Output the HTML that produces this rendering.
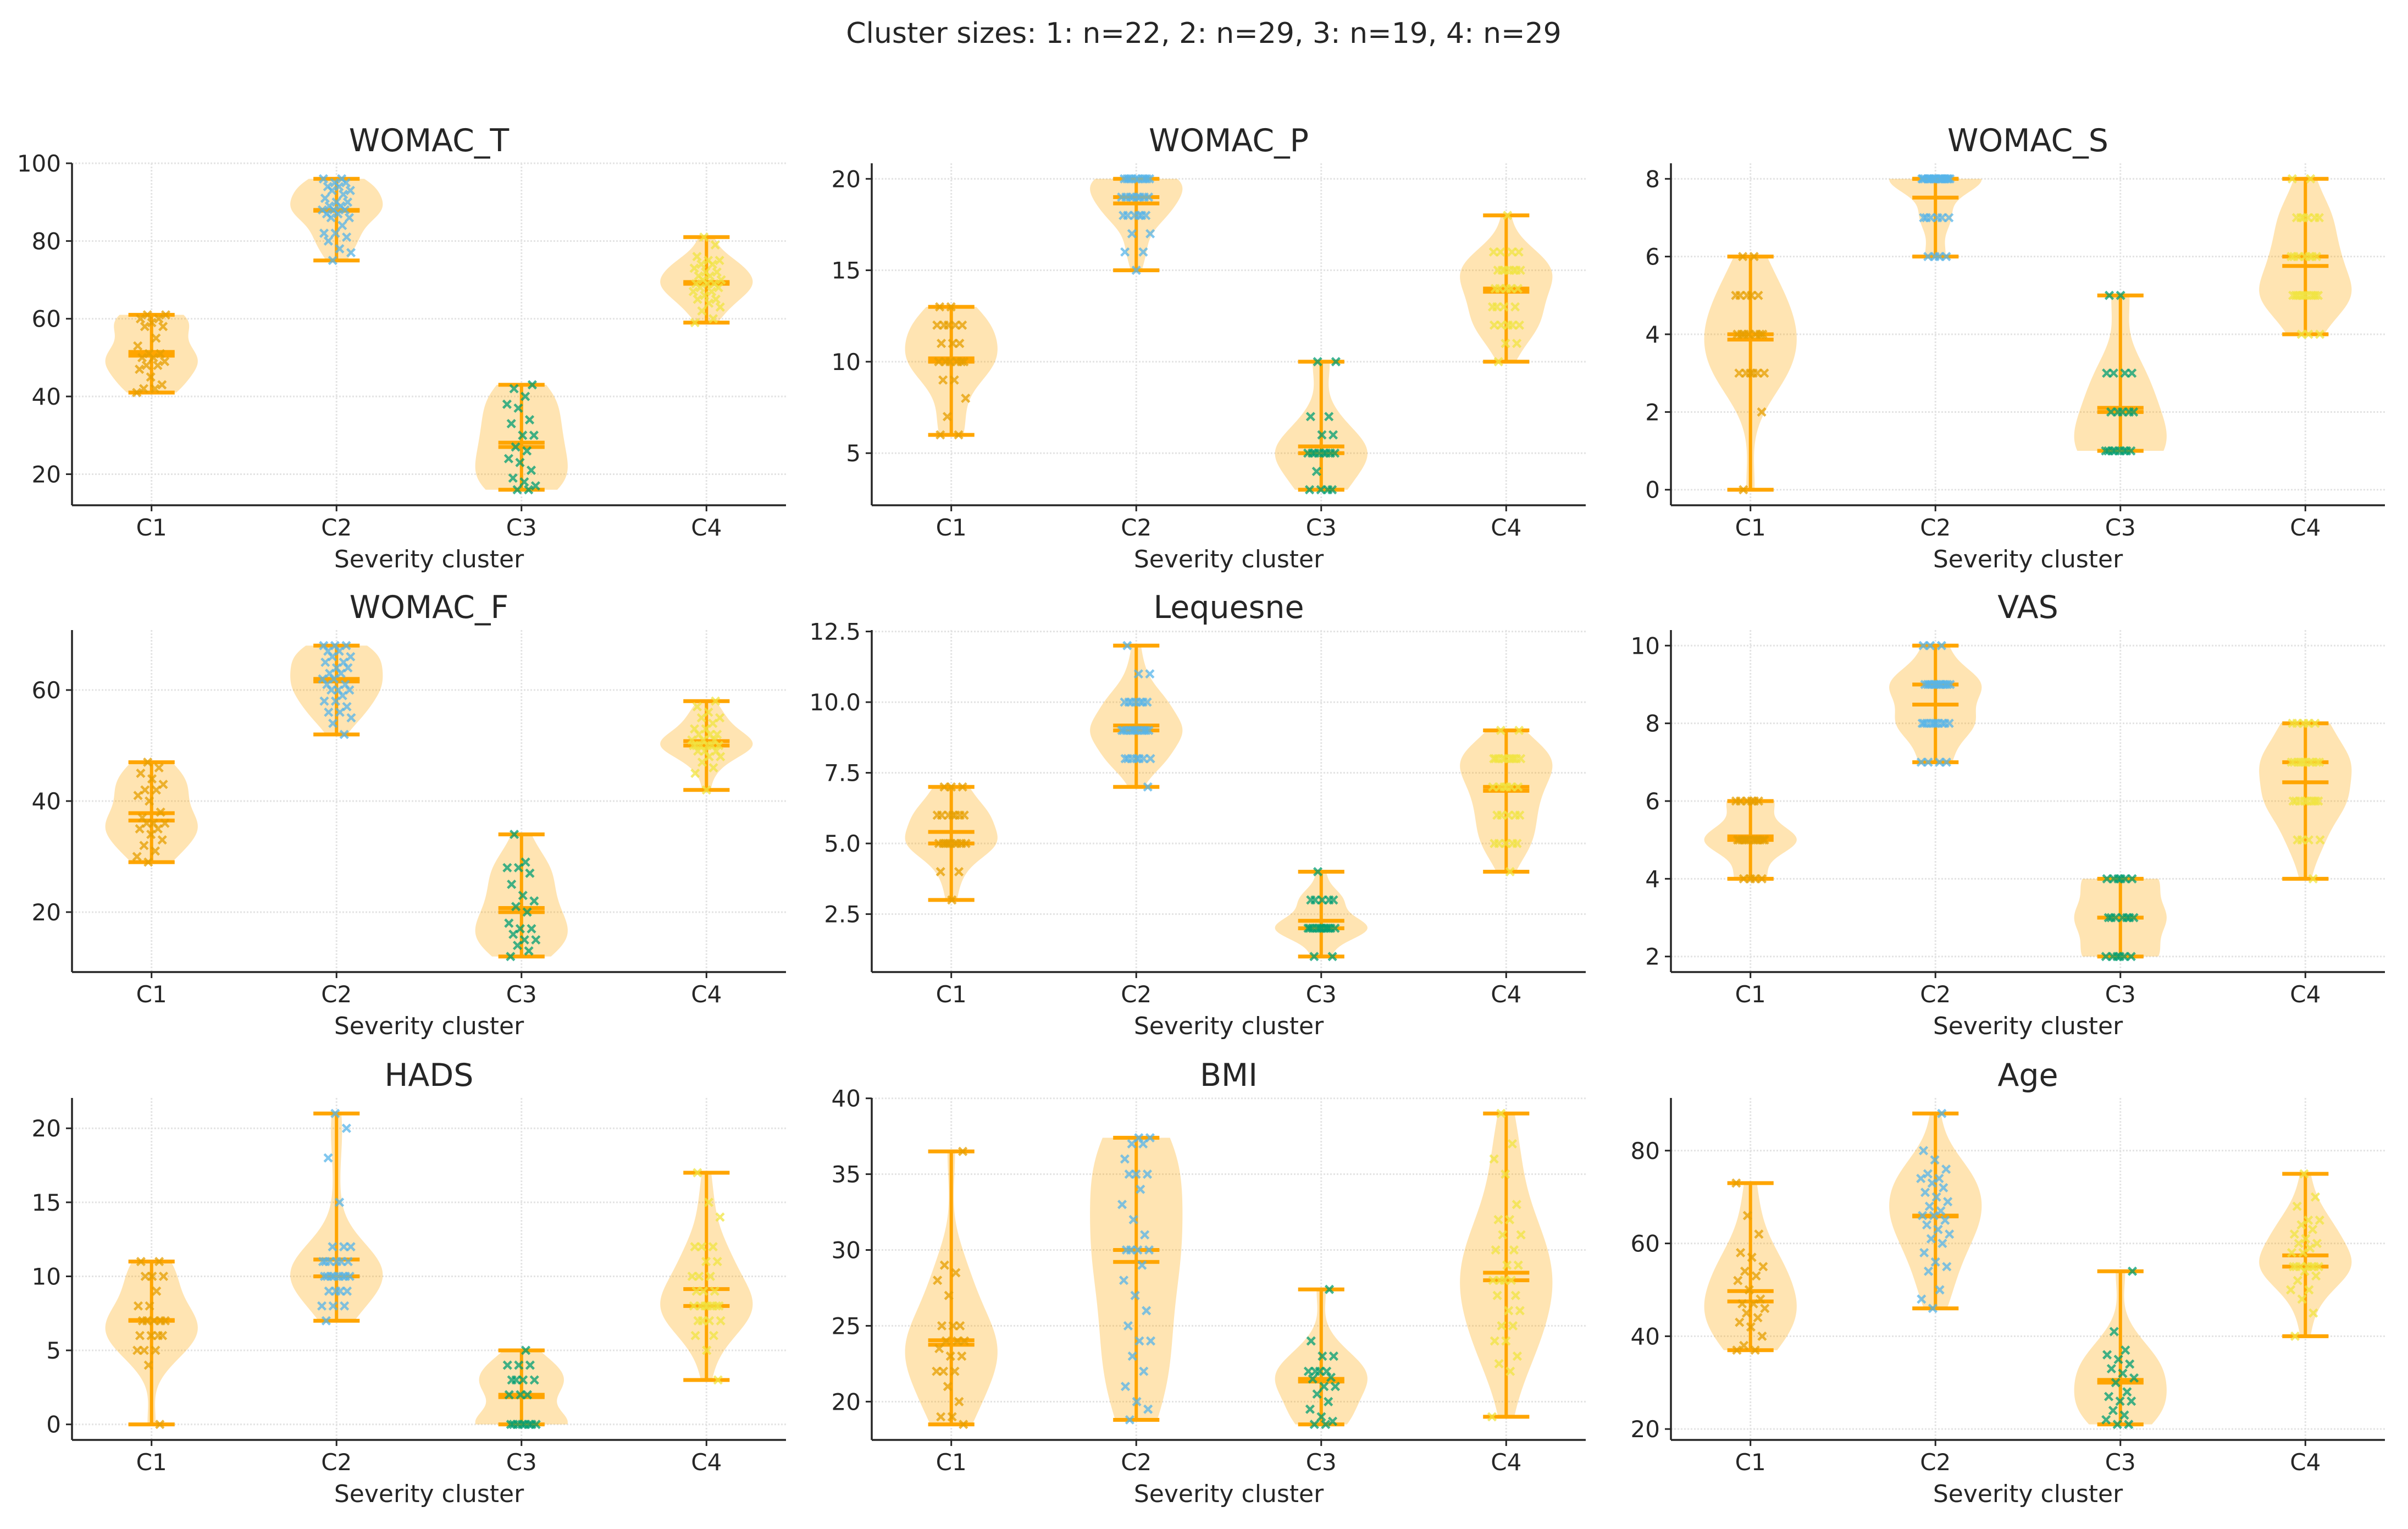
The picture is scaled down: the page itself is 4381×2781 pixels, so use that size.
<!DOCTYPE html>
<html><head><meta charset="utf-8"><style>
html,body{margin:0;padding:0;background:#fff;}
svg text{font-family:"DejaVu Sans","Liberation Sans",sans-serif;fill:#262626;}
</style></head><body>
<svg id="fig" width="4381" height="2776" viewBox="0 0 4381 2776" xmlns="http://www.w3.org/2000/svg">
<text x="2190" y="78" font-size="52" text-anchor="middle">Cluster sizes: 1: n=22, 2: n=29, 3: n=19, 4: n=29</text>
</svg>
<script>
const categories = ["C1","C2","C3","C4"];
const panelTitles = ["WOMAC_T","WOMAC_P","WOMAC_S","WOMAC_F","Lequesne","VAS","HADS","BMI","Age"];
const tickValues = [
 [20,40,60,80,100],[5,10,15,20],[0,2,4,6,8],
 [20,40,60],[2.5,5,7.5,10,12.5],[2,4,6,8,10],
 [0,5,10,15,20],[20,25,30,35,40],[20,40,60,80]];
const tickLabels = [
 ["20","40","60","80","100"],["5","10","15","20"],["0","2","4","6","8"],
 ["20","40","60"],["2.5","5.0","7.5","10.0","12.5"],["2","4","6","8","10"],
 ["0","5","10","15","20"],["20","25","30","35","40"],["20","40","60","80"]];
const womacT = [
 [41,42,42,43,45,47,48,48,49,50,50,51,51,53,55,58,58,59,60,60,61,61],
 [75,77,78,80,81,82,82,84,86,86,87,87,88,88,88,89,89,90,90,91,92,93,93,94,94,95,95,96,96],
 [16,16,17,18,19,21,23,24,26,27,30,30,33,34,37,38,40,42,43],
 [59,60,62,63,64,65,65,66,67,67,68,68,69,69,69,70,70,71,71,72,72,73,74,74,75,75,76,79,81]];
const womacP = [
 [6,6,7,8,9,9,10,10,10,10,10,10,11,11,11,12,12,12,12,12,13,13],
 [15,16,16,17,17,18,18,18,18,18,18,19,19,19,19,19,19,19,19,20,20,20,20,20,20,20,20,20,20],
 [3,3,3,3,4,5,5,5,5,5,5,5,5,6,6,7,7,10,10],
 [10,11,11,12,12,12,12,12,13,13,13,13,14,14,14,14,14,15,15,15,15,15,15,15,16,16,16,16,18]];
const womacS = [
 [0,2,3,3,3,3,3,3,4,4,4,4,4,4,4,5,5,5,5,5,6,6],
 [6,6,6,6,7,7,7,7,7,7,8,8,8,8,8,8,8,8,8,8,8,8,8,8,8,8,8,8,8],
 [1,1,1,1,1,1,1,1,2,2,2,2,2,3,3,3,3,5,5],
 [4,4,4,5,5,5,5,5,5,5,5,5,5,5,6,6,6,6,6,6,6,7,7,7,7,7,7,8,8]];
const womacF = [
 [29,30,31,32,33,34,35,35,36,36,36,37,38,40,41,42,42,43,44,45,46,47],
 [52,54,55,56,56,57,58,58,59,60,60,60,61,61,62,62,63,63,64,64,65,65,66,66,67,67,68,68,68],
 [12,13,14,15,15,16,17,17,18,20,21,22,23,25,27,28,28,29,34],
 [42,45,46,47,48,48,49,49,49,50,50,50,50,50,50,51,51,51,52,52,52,53,53,54,55,55,56,57,58]];
const lequesne = [
 [3,4,4,5,5,5,5,5,5,5,5,5,6,6,6,6,6,6,6,7,7,7],
 [7,8,8,8,8,8,8,8,9,9,9,9,9,9,9,9,9,9,9,10,10,10,10,10,10,10,11,11,12],
 [1,1,2,2,2,2,2,2,2,2,2,2,2,3,3,3,3,3,4],
 [4,5,5,5,5,5,6,6,6,6,6,7,7,7,7,7,7,8,8,8,8,8,8,8,8,8,8,9,9]];
const vas = [
 [4,4,4,4,5,5,5,5,5,5,5,5,5,5,5,5,6,6,6,6,6,6],
 [7,7,7,7,8,8,8,8,8,8,8,8,8,8,9,9,9,9,9,9,9,9,9,9,9,9,10,10,10],
 [2,2,2,2,2,2,3,3,3,3,3,3,3,4,4,4,4,4,4],
 [4,5,5,5,5,6,6,6,6,6,6,6,6,6,7,7,7,7,7,7,7,7,7,7,8,8,8,8,8]];
const hads = [
 [0,4,5,5,5,6,6,6,6,7,7,7,7,7,8,8,9,10,10,10,11,11],
 [7,8,8,8,9,9,9,9,10,10,10,10,10,10,10,10,11,11,11,11,11,11,12,12,12,15,18,20,21],
 [0,0,0,0,0,0,0,0,2,2,2,3,3,3,3,4,4,4,5],
 [3,5,6,6,7,7,7,7,8,8,8,8,8,8,8,9,9,9,10,10,10,11,11,12,12,12,14,15,17]];
const bmi = [
 [18.5,19,19,20,21,22,22,22,23,23,23.5,24,24,24,25,25,25,27,28,28.5,29,36.5],
 [18.8,19.5,20,21,22,23,24,24,25,26,27,28,29,30,30,30,30,31,32,33,34,35,35,35,36,37,37,37.4,37.4],
 [18.5,18.5,18.7,19,19.5,20,20.5,21,21,21.5,21.6,22,22,22,22,23,23,24,27.4],
 [19,22,22.5,23,24,24,25,25,26,26,27,27,28,28,28,28,29,29,30,30,31,31,32,32,33,35,36,37,39]];
const age = [
 [37,37,38,40,42,43,44,45,46,47,47,48,50,52,53,54,55,57,58,62,66,73],
 [46,48,50,54,55,56,58,60,61,62,63,64,65,66,66,67,68,69,70,71,72,73,74,74,75,76,78,80,88],
 [21,21,22,23,24,26,26,27,28,30,31,32,33,34,35,36,37,41,54],
 [40,45,48,50,50,52,53,54,55,55,55,55,55,55,55,58,58,59,60,60,61,62,63,64,65,65,68,70,75]];
const panelData = [womacT,womacP,womacS,womacF,lequesne,vas,hads,bmi,age];

const NS="http://www.w3.org/2000/svg";
const svg=document.getElementById("fig");
const colLeft=[131,1586,3040], rowBottom=[919,1768,2619], AW=1299, AH=622;
const ptColors=["#e69f00","#56b4e9","#009e73","#f0e442"];
function mk(tag,attrs,parent){const e=document.createElementNS(NS,tag);for(const k in attrs)e.setAttribute(k,attrs[k]);(parent||svg).appendChild(e);return e;}
function mean(a){return a.reduce((s,v)=>s+v,0)/a.length;}
function median(a){const s=[...a].sort((x,y)=>x-y);const n=s.length;return n%2?s[(n-1)/2]:(s[n/2-1]+s[n/2])/2;}
function std(a){const m=mean(a);return Math.sqrt(a.reduce((s,v)=>s+(v-m)*(v-m),0)/(a.length-1));}

panelData.forEach((clusters,p)=>{
  const L=colLeft[p%3], B=rowBottom[Math.floor(p/3)], T=B-AH;
  const g=mk("g",{});
  
  
  let lo=Infinity,hi=-Infinity;clusters.forEach(c=>c.forEach(v=>{lo=Math.min(lo,v);hi=Math.max(hi,v);}));
  const pad=(hi-lo)*0.05, y0=lo-pad, y1=hi+pad;
  const x0=0.57, x1=4.43;
  const sx=v=>L+(v-x0)/(x1-x0)*AW, sy=v=>B-(v-y0)/(y1-y0)*AH;
  tickValues[p].forEach((t,i)=>{
    const gl=mk("line",{x1:L,x2:L+AW,y1:sy(t),y2:sy(t),stroke:"#e3e3e3","stroke-width":3,"stroke-dasharray":"3 3"},g);
    
    const tk=mk("line",{x1:L-11,x2:L,y1:sy(t),y2:sy(t),stroke:"#262626","stroke-width":3},g);
    
    const tl=mk("text",{x:L-20,y:sy(t)+15,"font-size":42,"text-anchor":"end"},g);tl.textContent=tickLabels[p][i];
    
  });
  categories.forEach((c,k)=>{
    const gl=mk("line",{x1:sx(k+1),x2:sx(k+1),y1:T,y2:B,stroke:"#e3e3e3","stroke-width":3,"stroke-dasharray":"3 3"},g);
    
  });
  clusters.forEach((d,k)=>{
    const pos=k+1, mn=Math.min(...d), mx=Math.max(...d);
    const bw=Math.max(std(d),1e-6)*Math.pow(d.length,-0.2);
    const N=100, ys=[], dens=[];
    for(let i=0;i<N;i++){const y=mn+(mx-mn)*i/(N-1);ys.push(y);let s=0;d.forEach(v=>{const z=(y-v)/bw;s+=Math.exp(-0.5*z*z);});dens.push(s);}
    const dm=Math.max(...dens);
    let pts=[];
    for(let i=0;i<N;i++)pts.push(sx(pos+0.25*dens[i]/dm)+","+sy(ys[i]));
    for(let i=N-1;i>=0;i--)pts.push(sx(pos-0.25*dens[i]/dm)+","+sy(ys[i]));
    const vb=mk("polygon",{points:pts.join(" "),fill:"#ffa500","fill-opacity":0.3},g);
    
    const vl=mk("line",{x1:sx(pos),x2:sx(pos),y1:sy(mn),y2:sy(mx),stroke:"#ffa500","stroke-width":6},g);
    
    [mn,mx,mean(d),median(d)].forEach((v,j)=>{
      const h=mk("line",{x1:sx(pos-0.125),x2:sx(pos+0.125),y1:sy(v),y2:sy(v),stroke:"#ffa500","stroke-width":7},g);
      
    });
    d.forEach((v,i)=>{
      const jx=(((i*0.618034+k*0.37+p*0.13)%1)-0.5)*0.16;
      const cx=sx(pos+jx), cy=sy(v), r=7;
      const m=mk("path",{d:`M${cx-r},${cy-r}L${cx+r},${cy+r}M${cx-r},${cy+r}L${cx+r},${cy-r}`,stroke:ptColors[k],"stroke-width":4.5,"stroke-opacity":0.75,fill:"none"},g);
      
    });
  });
  const ls=mk("line",{x1:L,x2:L,y1:T,y2:B,stroke:"#262626","stroke-width":3.5},g);
  
  const bs=mk("line",{x1:L,x2:L+AW,y1:B,y2:B,stroke:"#262626","stroke-width":3.5},g);
  
  categories.forEach((c,k)=>{
    const tk=mk("line",{x1:sx(k+1),x2:sx(k+1),y1:B,y2:B+11,stroke:"#262626","stroke-width":3},g);
    
    const tl=mk("text",{x:sx(k+1),y:B+55,"font-size":42,"text-anchor":"middle"},g);tl.textContent=c;
    
  });
  const xl=mk("text",{x:L+AW/2,y:B+113,"font-size":44,"text-anchor":"middle"},g);xl.textContent="Severity cluster";
  
  const tt=mk("text",{x:L+AW/2,y:T-22,"font-size":57,"text-anchor":"middle"},g);tt.textContent=panelTitles[p];
  
});
</script>
</body></html>
